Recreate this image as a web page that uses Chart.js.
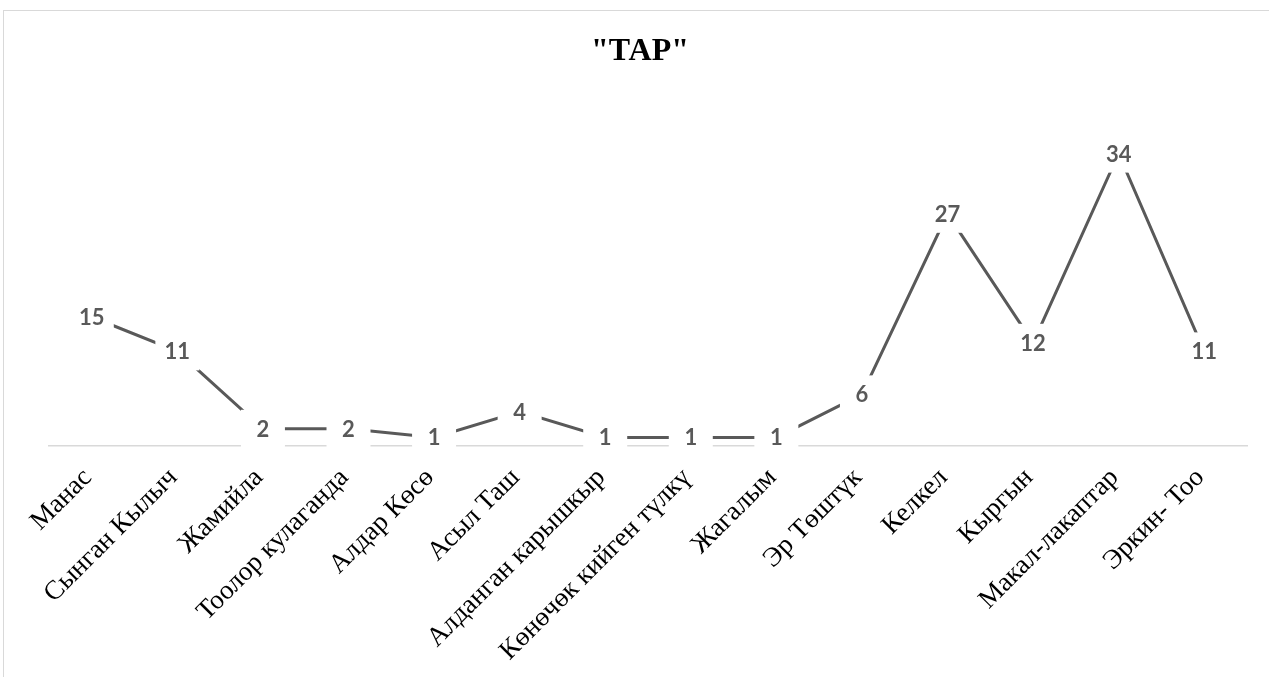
<!DOCTYPE html>
<html>
<head>
<meta charset="utf-8">
<script src="https://cdn.jsdelivr.net/npm/chart.js@4.4.0/dist/chart.umd.min.js"></script>
<style>
    body { margin: 0; background: #fff; overflow: hidden; }
    #frame {
        position: absolute; left: 3px; top: 10px;
        width: 1300px; height: 700px;
        border: 1px solid #d9d9d9;
    }
    #chart { position: absolute; left: 0; top: 0; }
</style>
</head>
<body>
<div id="frame"></div>
<canvas id="chart" width="1269" height="677"></canvas>
<script>
// Chart data
const chartTitle = '"ТАР"';
const categories = [
    'Манас', 'Сынган Кылыч', 'Жамийла', 'Тоолор кулаганда', 'Алдар Көсө',
    'Асыл Таш', 'Алданган карышкыр', 'Көнөчөк кийген түлкү', 'Жагалым',
    'Эр Төштүк', 'Келкел', 'Кыргын', 'Макал-лакаптар', 'Эркин- Тоо'
];
const values = [15, 11, 2, 2, 1, 4, 1, 1, 1, 6, 27, 12, 34, 11];
const yMin = 0;
const yMax = 40;

const lineColor = '#595959';

// Title drawn by hand so it sits centred on the page, like the original
const titleText = {
    id: 'titleText',
    afterDraw(chart) {
        const ctx = chart.ctx;
        ctx.save();
        ctx.font = 'bold 32px "Liberation Serif", "Times New Roman", serif';
        ctx.fillStyle = '#000000';
        ctx.textAlign = 'center';
        ctx.textBaseline = 'alphabetic';
        ctx.fillText(chartTitle, 640, 60);
        ctx.restore();
    }
};

// Draws the value labels on a white box, so the line breaks round them
const valueLabels = {
    id: 'valueLabels',
    afterDatasetsDraw(chart) {
        const ctx = chart.ctx;
        const meta = chart.getDatasetMeta(0);
        ctx.save();
        ctx.font = 'bold 22px Lato, "Liberation Sans", sans-serif';
        ctx.textAlign = 'center';
        ctx.textBaseline = 'middle';
        meta.data.forEach(function(pt, i) {
            const text = String(values[i]);
            const w = Math.max(ctx.measureText(text).width + 16, 44);
            const h = 38;
            ctx.fillStyle = '#ffffff';
            ctx.fillRect(pt.x - w / 2, pt.y - h / 2, w, h);
            ctx.fillStyle = lineColor;
            ctx.fillText(text, pt.x, pt.y + 1);
        });
        ctx.restore();
    }
};

const ctx = document.getElementById('chart').getContext('2d');
const chart = new Chart(ctx, {
    type: 'line',
    data: {
        labels: categories,
        datasets: [{
            data: values,
            borderColor: lineColor,
            borderWidth: 3,
            pointRadius: 0,
            tension: 0,
            fill: false
        }]
    },
    options: {
        responsive: false,
        animation: false,
        devicePixelRatio: 1,
        layout: {
            padding: { left: 49, right: 22, top: 102, bottom: 0 }
        },
        plugins: {
            legend: { display: false },
            tooltip: { enabled: false },
            title: { display: false }
        },
        scales: {
            x: {
                offset: true,
                grid: { display: false, drawTicks: false },
                border: { display: true, color: '#d9d9d9', width: 1.5 },
                ticks: {
                    color: '#000000',
                    autoSkip: false,
                    minRotation: 45,
                    maxRotation: 45,
                    padding: 16,
                    labelOffset: -4,
                    font: { family: '"Liberation Serif", "Times New Roman", serif', size: 27 }
                },
                afterFit(scale) {
                    scale.height = 231;
                }
            },
            y: {
                display: false,
                min: yMin,
                max: yMax
            }
        }
    },
    plugins: [valueLabels, titleText]
});
</script>
</body>
</html>
